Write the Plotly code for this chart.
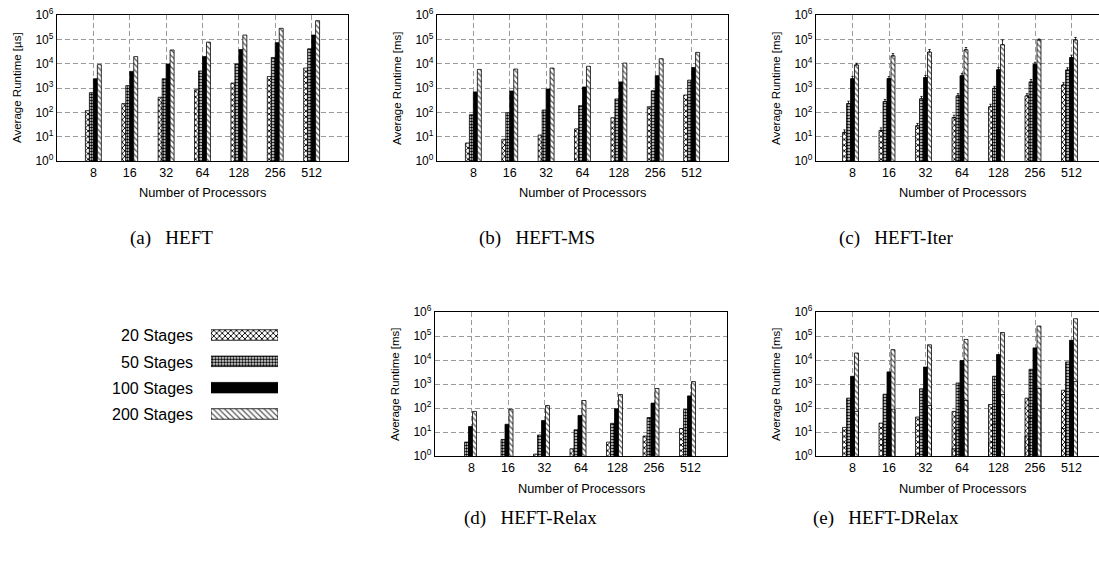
import plotly.graph_objects as go

# ---- data -------------------------------------------------------------
procs = ["8", "16", "32", "64", "128", "256", "512"]
stages = ["20 Stages", "50 Stages", "100 Stages", "200 Stages"]

# (a) HEFT, microseconds
heft_20 = [117, 228, 415, 850, 1600, 2950, 6600]
heft_50 = [645, 1250, 2400, 5000, 9700, 18000, 41000]
heft_100 = [2400, 4800, 9700, 19500, 38000, 73000, 150000]
heft_200 = [9100, 19500, 36500, 77000, 150000, 283000, 585000]

# (b) HEFT-MS, milliseconds
ms_20 = [5.5, 7.8, 11.7, 21, 60, 170, 515]
ms_50 = [80, 97, 125, 188, 355, 775, 2100]
ms_100 = [690, 750, 910, 1100, 1780, 3200, 6900]
ms_200 = [5800, 6000, 6600, 7800, 10600, 16000, 29000]

# (c) HEFT-Iter, milliseconds, with upper error
iter_20 = [15, 18, 28, 61, 170, 475, 1330]
iter_50 = [228, 278, 360, 475, 970, 1780, 5500]
iter_100 = [2400, 2450, 2700, 3200, 5600, 9400, 17900]
iter_200 = [8900, 21000, 30000, 37000, 60000, 95000, 95000]
iter_20_err = [4, 5, 7, 15, 45, 110, 320]
iter_50_err = [60, 60, 90, 110, 200, 450, 1300]
iter_100_err = [600, 500, 600, 800, 1300, 2000, 4500]
iter_200_err = [1500, 5000, 8000, 9000, 35000, 8000, 25000]

# (d) HEFT-Relax, milliseconds
relax_20 = [0.8, 0.8, 1.2, 2.0, 3.8, 6.8, 14]
relax_50 = [3.8, 4.9, 7.5, 12.4, 23, 40, 87]
relax_100 = [17, 21, 30, 49, 93, 160, 320]
relax_200 = [72, 89, 127, 205, 365, 650, 1260]

# (e) HEFT-DRelax, milliseconds
drelax_20 = [15.5, 23.5, 42, 72, 140, 257, 550]
drelax_50 = [257, 375, 630, 1100, 2100, 4100, 8300]
drelax_100 = [2100, 3200, 5100, 9500, 17000, 32000, 66000]
drelax_200 = [19600, 27000, 43000, 72000, 140000, 260000, 525000]

# ---- page geometry (pixels) ------------------------------------------
W, H = 1099, 565
SLOT = 36.6           # pixels between processor groups
BAR_PX = 4.0          # width of a single bar


def px(x):
    return x / W


def py(y):
    return 1 - y / H


FONT = "Liberation Sans, Arial, Helvetica, sans-serif"
SERIF = "Liberation Serif, Times New Roman, serif"

# hatch styles for the four stage counts
styles = [
    dict(color="white", pattern=dict(shape="x", fgcolor="black", bgcolor="white",
                                     size=4, solidity=0.4)),
    dict(color="white", pattern=dict(shape=".", fgcolor="black", bgcolor="white",
                                     size=3, solidity=0.6)),
    dict(color="black"),
    dict(color="white", pattern=dict(shape="\\", fgcolor="#555555", bgcolor="white",
                                     size=4, solidity=0.3)),
]

panels = [
    dict(key="", left=57, right=348, top=15, bottom=161, shift=2,
         ytitle="Average Runtime [µs]", series=[heft_20, heft_50, heft_100, heft_200]),
    dict(key="2", left=437, right=728, top=15, bottom=161, shift=2,
         ytitle="Average Runtime [ms]", series=[ms_20, ms_50, ms_100, ms_200]),
    dict(key="3", left=816, right=1108, top=15, bottom=161, shift=0,
         ytitle="Average Runtime [ms]", series=[iter_20, iter_50, iter_100, iter_200],
         errors=[iter_20_err, iter_50_err, iter_100_err, iter_200_err]),
    dict(key="4", left=435, right=727, top=312, bottom=456, shift=-1,
         ytitle="Average Runtime [ms]", series=[relax_20, relax_50, relax_100, relax_200]),
    dict(key="5", left=816, right=1108, top=312, bottom=456, shift=0,
         ytitle="Average Runtime [ms]", series=[drelax_20, drelax_50, drelax_100, drelax_200],
         outline=[relax_20, relax_50, relax_100, relax_200]),
]

fig = go.Figure()
annotations = []
layout = {}
xs = list(range(len(procs)))
wdata = BAR_PX / SLOT

for p in panels:
    xa = "x" + p["key"]
    ya = "y" + p["key"]
    right_vis = min(p["right"], W)
    lo = -1.0
    hi = lo + (right_vis - p["left"]) / ((p["right"] - p["left"]) / 8.0)
    shift = p["shift"] / SLOT

    for k, vals in enumerate(p["series"]):
        st = styles[k]
        err = None
        if "errors" in p:
            err = dict(type="data", array=p["errors"][k], arrayminus=[0] * len(vals),
                       symmetric=False, color="black", thickness=0.8, width=1.2)
        fig.add_trace(go.Bar(
            x=xs, y=vals, xaxis=xa, yaxis=ya, width=wdata,
            offset=(k - 2.5) * wdata + shift,
            marker=dict(color=st["color"], pattern=st.get("pattern"),
                        line=dict(color="black", width=0.8)),
            error_y=err, showlegend=False, hoverinfo="skip"))

    # DRelax bars include the Relax portion, drawn as outlines on top
    for k, vals in enumerate(p.get("outline", [])):
        fig.add_trace(go.Bar(
            x=xs, y=vals, xaxis=xa, yaxis=ya, width=wdata,
            offset=(k - 2.5) * wdata + shift,
            marker=dict(color="rgba(0,0,0,0)", line=dict(color="black", width=0.8)),
            showlegend=False, hoverinfo="skip"))

    layout["xaxis" + p["key"]] = dict(
        domain=[px(p["left"]), px(right_vis)], range=[lo, hi], anchor=ya,
        tickmode="array", tickvals=xs, ticktext=procs, ticks="", automargin=False,
        showgrid=True, gridcolor="#9a9a9a", griddash="5px,3px", gridwidth=0.8,
        zeroline=False, showline=True, linecolor="black", linewidth=1.3,
        mirror=True, tickfont=dict(family=FONT, size=12.5, color="black"),
        fixedrange=True)
    layout["yaxis" + p["key"]] = dict(
        domain=[py(p["bottom"]), py(p["top"])], type="log", range=[0, 6], anchor=xa,
        tickmode="array", tickvals=[10 ** i for i in range(7)],
        ticktext=["10<sup>%d</sup>" % i for i in range(7)], ticks="", automargin=False,
        showgrid=True, gridcolor="#9a9a9a", griddash="5px,3px", gridwidth=0.8,
        zeroline=False, showline=True, linecolor="black", linewidth=1.3,
        mirror=(p["right"] <= W), tickfont=dict(family=FONT, size=12, color="black"),
        fixedrange=True)

    annotations.append(dict(
        text=p["ytitle"], textangle=-90, x=px(p["left"] - 40),
        y=py((p["top"] + p["bottom"]) / 2), xref="paper", yref="paper",
        xanchor="center", yanchor="middle",
        showarrow=False, font=dict(family=FONT, size=11.5, color="black")))
    annotations.append(dict(
        text="Number of Processors", x=px((p["left"] + p["right"]) / 2),
        y=py(p["bottom"] + 32), xref="paper", yref="paper", showarrow=False,
        xanchor="center", yanchor="middle",
        font=dict(family=FONT, size=12.8, color="black")))

# sub-figure captions
captions = ["(a)\u00a0\u00a0 HEFT", "(b)\u00a0\u00a0 HEFT-MS", "(c)\u00a0\u00a0 HEFT-Iter",
            "(d)\u00a0\u00a0 HEFT-Relax", "(e)\u00a0\u00a0 HEFT-DRelax"]
cap_pos = [(171, 238), (537, 238), (896, 238), (530, 518), (886, 518)]
for text, (cx, cy) in zip(captions, cap_pos):
    annotations.append(dict(text=text, x=px(cx), y=py(cy), xref="paper", yref="paper",
                            xanchor="center", yanchor="middle", showarrow=False,
                            font=dict(family=SERIF, size=19, color="black")))

# legend: key swatches drawn as horizontal bars, labels to their left
rows = [335, 362, 388, 414]
row_h = 26.3
for k, name in enumerate(stages):
    st = styles[k]
    fig.add_trace(go.Bar(
        x=[1], y=[k], orientation="h", xaxis="x6", yaxis="y6", width=10.5 / row_h,
        marker=dict(color=st["color"], pattern=st.get("pattern"),
                    line=dict(color="black", width=0.8)),
        showlegend=False, hoverinfo="skip"))
    annotations.append(dict(text=name, x=px(195), y=py(rows[k]), xref="paper",
                            yref="paper", xanchor="right", yanchor="middle",
                            showarrow=False,
                            font=dict(family=FONT, size=16, color="black")))

layout["xaxis6"] = dict(domain=[px(211), px(278)], range=[0, 1], visible=False,
                        anchor="y6", fixedrange=True, automargin=False)
layout["yaxis6"] = dict(domain=[py(rows[-1] + row_h / 2), py(rows[0] - row_h / 2)],
                        range=[3.5, -0.5], visible=False, anchor="x6", fixedrange=True,
                        automargin=False)

fig.update_layout(
    template="none",
    width=W, height=H, margin=dict(l=0, r=0, t=0, b=0, pad=0, autoexpand=False),
    paper_bgcolor="white", plot_bgcolor="white", barmode="overlay",
    showlegend=False, annotations=annotations, **layout)

fig.write_html("out.html")
